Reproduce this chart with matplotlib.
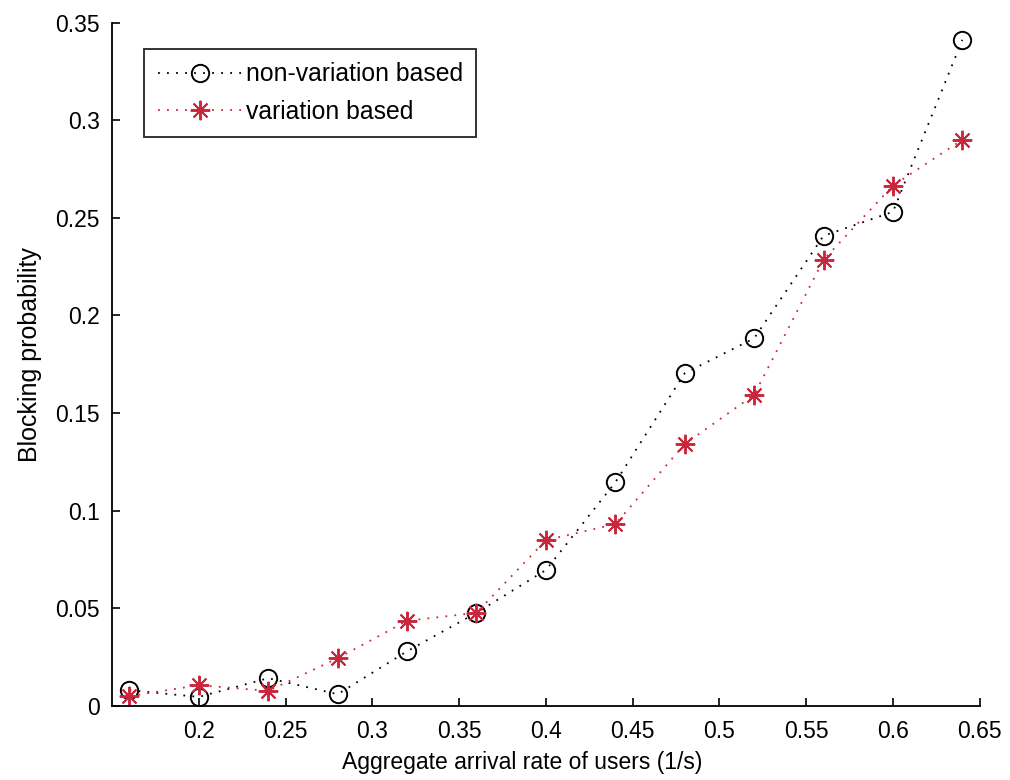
import numpy as np
import matplotlib.pyplot as plt

plt.rcParams['font.family'] = ['Liberation Sans', 'DejaVu Sans']

# arrival rate (1/s)
rate = [0.16, 0.20, 0.24, 0.28, 0.32, 0.36, 0.40, 0.44, 0.48, 0.52, 0.56, 0.60, 0.64]
# blocking probability
non_var = [0.008, 0.0046, 0.0142, 0.006, 0.028, 0.0477, 0.0696, 0.1145, 0.1704,
           0.1883, 0.2408, 0.2531, 0.3412]
var_based = [0.005, 0.0106, 0.0077, 0.0244, 0.0436, 0.0477, 0.0849, 0.0931, 0.1341,
             0.1593, 0.2285, 0.2665, 0.290]

xticks = [0.2, 0.25, 0.3, 0.35, 0.4, 0.45, 0.5, 0.55, 0.6, 0.65]
yticks = [0, 0.05, 0.1, 0.15, 0.2, 0.25, 0.3, 0.35]

fig = plt.figure(figsize=(10.1, 7.8), dpi=100)
ax = fig.add_axes([0.111, 0.095, 0.859, 0.876])

dots = (0, (1, 4))
ax.plot(rate, non_var, color='black', linestyle=dots, linewidth=1.3,
        marker='o', markersize=12.5, markerfacecolor='none', markeredgewidth=1.4,
        label='non-variation based')
# MATLAB style '*' : eight thin spokes
ax.plot(rate, var_based, color='#c8283c', linestyle=dots, linewidth=1.3,
        marker=(8, 2, 0), markersize=14, markeredgewidth=1.4,
        label='variation based')

ax.set_xlim(0.15, 0.65)
ax.set_ylim(0, 0.35)
ax.set_xticks(xticks)
ax.set_xticklabels([f'{t:g}' for t in xticks])
ax.set_yticks(yticks)
ax.set_yticklabels([f'{t:g}' for t in yticks])
ax.tick_params(direction='in', length=6, width=1.2, labelsize=16.5)
ax.tick_params(axis='x', pad=10)
ax.tick_params(axis='y', pad=9)
for s in ['top', 'right']:
    ax.spines[s].set_visible(False)
for s in ['left', 'bottom']:
    ax.spines[s].set_linewidth(1.3)

ax.set_xlabel('Aggregate arrival rate of users (1/s)', fontsize=16.5, labelpad=6)
ax.set_ylabel('Blocking probability', fontsize=18, labelpad=9)
ax.xaxis.label.set_x(0.473)
ax.yaxis.label.set_y(0.514)

leg = ax.legend(loc='upper left', bbox_to_anchor=(0.037, 0.962), fontsize=17.8,
                frameon=True, fancybox=False, handlelength=3.4, handletextpad=0.15,
                borderpad=0.55, labelspacing=0.55, borderaxespad=0)
leg.get_frame().set_edgecolor('black')
leg.get_frame().set_linewidth(1.4)

fig.savefig('out.png', dpi=100)
